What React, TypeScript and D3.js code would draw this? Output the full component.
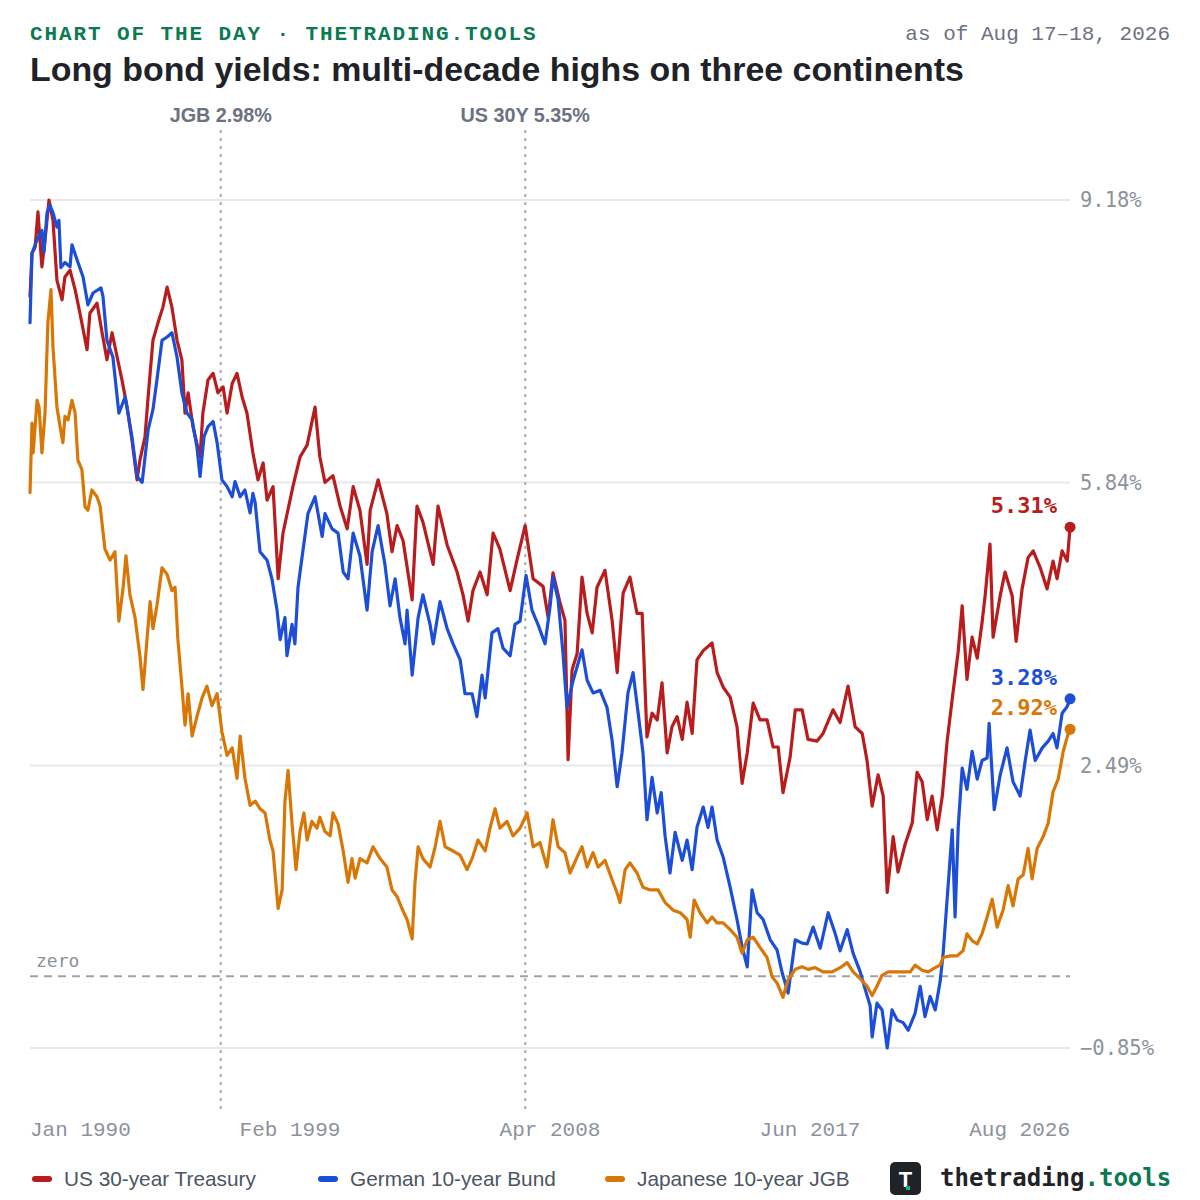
import React from "react";
import * as d3 from "d3";

// [decimal year, yield %]
const us30y: [number, number][] = [
  [1990.0, 8.04], [1990.07, 8.55], [1990.18, 8.62], [1990.28, 9.04], [1990.42, 8.39], [1990.53, 8.71],
  [1990.67, 9.18], [1990.81, 8.94], [1990.95, 8.23], [1991.13, 8.0], [1991.23, 8.27], [1991.41, 8.35],
  [1991.59, 8.12], [1991.76, 7.84], [1992.01, 7.41], [1992.11, 7.84], [1992.36, 7.96], [1992.54, 7.61],
  [1992.71, 7.29], [1992.89, 7.61], [1993.07, 7.32], [1993.24, 7.05], [1993.42, 6.73], [1993.59, 6.34],
  [1993.77, 5.87], [1993.87, 6.1], [1994.05, 6.38], [1994.16, 6.85], [1994.33, 7.52], [1994.51, 7.73],
  [1994.68, 7.91], [1994.83, 8.15], [1995.0, 7.91], [1995.18, 7.52], [1995.35, 7.29], [1995.46, 6.66],
  [1995.57, 6.9], [1995.74, 6.5], [1995.99, 6.14], [1996.09, 6.66], [1996.27, 7.05], [1996.45, 7.13],
  [1996.62, 6.9], [1996.8, 6.97], [1996.94, 6.66], [1997.12, 7.01], [1997.29, 7.13], [1997.47, 6.85],
  [1997.64, 6.66], [1997.85, 6.19], [1998.03, 5.87], [1998.21, 6.07], [1998.35, 5.63], [1998.56, 5.79],
  [1998.74, 4.7], [1998.91, 5.24], [1999.26, 5.79], [1999.51, 6.14], [1999.76, 6.28], [2000.04, 6.73],
  [2000.21, 6.14], [2000.39, 5.84], [2000.67, 5.92], [2000.92, 5.56], [2001.17, 5.29], [2001.38, 5.79],
  [2001.62, 5.51], [2001.87, 4.87], [2001.98, 5.51], [2002.26, 5.87], [2002.57, 5.47], [2002.75, 5.02],
  [2002.93, 5.33], [2003.14, 5.15], [2003.46, 4.45], [2003.63, 5.56], [2003.84, 5.37], [2004.2, 4.87],
  [2004.37, 5.56], [2004.69, 5.1], [2005.04, 4.78], [2005.25, 4.51], [2005.43, 4.2], [2005.6, 4.56],
  [2005.85, 4.78], [2006.1, 4.51], [2006.31, 5.24], [2006.55, 5.05], [2006.91, 4.56], [2007.15, 4.92],
  [2007.44, 5.33], [2007.72, 4.7], [2008.07, 4.61], [2008.25, 4.24], [2008.42, 4.77], [2008.67, 4.41],
  [2008.84, 4.21], [2008.95, 2.56], [2009.09, 3.62], [2009.27, 3.82], [2009.44, 4.72], [2009.62, 4.29],
  [2009.8, 4.06], [2009.97, 4.6], [2010.25, 4.8], [2010.5, 4.21], [2010.68, 3.59], [2010.89, 4.53],
  [2011.13, 4.72], [2011.38, 4.29], [2011.56, 4.29], [2011.73, 2.83], [2011.91, 3.11], [2012.09, 3.03],
  [2012.26, 3.47], [2012.44, 2.64], [2012.61, 2.95], [2012.79, 3.07], [2012.97, 2.8], [2013.14, 3.24],
  [2013.32, 2.87], [2013.49, 3.74], [2013.71, 3.85], [2014.02, 3.94], [2014.2, 3.59], [2014.41, 3.42],
  [2014.66, 3.3], [2014.9, 2.95], [2015.08, 2.28], [2015.26, 2.64], [2015.47, 3.23], [2015.71, 3.03],
  [2015.96, 3.03], [2016.17, 2.71], [2016.35, 2.71], [2016.52, 2.17], [2016.77, 2.59], [2016.95, 3.15],
  [2017.19, 3.15], [2017.4, 2.8], [2017.72, 2.78], [2017.93, 2.87], [2018.28, 3.15], [2018.53, 3.0],
  [2018.81, 3.43], [2019.06, 2.95], [2019.31, 2.87], [2019.48, 2.55], [2019.66, 2.01], [2019.87, 2.38],
  [2020.05, 2.13], [2020.19, 0.99], [2020.4, 1.65], [2020.57, 1.23], [2020.82, 1.56], [2021.07, 1.81],
  [2021.24, 2.41], [2021.42, 2.3], [2021.6, 1.85], [2021.77, 2.13], [2021.95, 1.73], [2022.13, 2.13],
  [2022.3, 2.78], [2022.51, 3.36], [2022.69, 3.84], [2022.83, 4.38], [2023.0, 3.51], [2023.18, 4.01],
  [2023.36, 3.76], [2023.53, 4.18], [2023.64, 4.5], [2023.81, 5.11], [2023.92, 4.01], [2024.17, 4.5],
  [2024.34, 4.78], [2024.59, 4.5], [2024.73, 3.96], [2024.94, 4.58], [2025.15, 4.95], [2025.33, 5.03],
  [2025.58, 4.83], [2025.82, 4.58], [2026.03, 4.91], [2026.17, 4.7], [2026.35, 5.03], [2026.53, 4.91],
  [2026.63, 5.31],
];

const bund10y: [number, number][] = [
  [1990.0, 7.73], [1990.07, 8.55], [1990.25, 8.71], [1990.42, 8.82], [1990.49, 8.56], [1990.6, 9.03],
  [1990.7, 9.12], [1990.81, 9.03], [1990.95, 8.86], [1991.02, 8.94], [1991.09, 8.38], [1991.23, 8.44],
  [1991.41, 8.39], [1991.48, 8.65], [1991.66, 8.47], [1991.87, 8.27], [1992.04, 7.94], [1992.22, 8.08],
  [1992.5, 8.14], [1992.57, 8.04], [1992.71, 7.52], [1992.92, 7.32], [1993.13, 6.66], [1993.35, 6.85],
  [1993.59, 6.38], [1993.77, 5.91], [1993.95, 5.84], [1994.16, 6.46], [1994.33, 6.7], [1994.47, 7.05],
  [1994.65, 7.52], [1994.83, 7.56], [1995.0, 7.61], [1995.18, 7.32], [1995.35, 6.9], [1995.53, 6.66],
  [1995.71, 6.58], [1995.88, 6.26], [1995.99, 5.91], [1996.13, 6.38], [1996.27, 6.5], [1996.45, 6.56],
  [1996.59, 6.31], [1996.76, 5.87], [1996.94, 5.79], [1997.12, 5.67], [1997.22, 5.85], [1997.4, 5.67],
  [1997.57, 5.75], [1997.75, 5.48], [1997.85, 5.71], [1997.93, 5.6], [1998.1, 5.02], [1998.35, 4.92],
  [1998.52, 4.7], [1998.7, 4.33], [1998.81, 3.98], [1998.98, 4.24], [1999.05, 3.79], [1999.23, 4.16],
  [1999.33, 3.93], [1999.44, 4.6], [1999.62, 5.05], [1999.79, 5.47], [2000.04, 5.67], [2000.29, 5.2],
  [2000.39, 5.47], [2000.64, 5.29], [2000.85, 5.24], [2001.03, 4.78], [2001.2, 4.7], [2001.38, 5.24],
  [2001.62, 4.97], [2001.87, 4.33], [2002.05, 5.02], [2002.26, 5.33], [2002.5, 4.87], [2002.68, 4.38],
  [2002.86, 4.7], [2003.03, 4.24], [2003.21, 3.93], [2003.28, 4.33], [2003.46, 3.56], [2003.67, 4.24],
  [2003.84, 4.51], [2004.09, 4.16], [2004.2, 3.93], [2004.44, 4.43], [2004.69, 4.11], [2004.9, 3.93],
  [2005.15, 3.74], [2005.32, 3.34], [2005.57, 3.34], [2005.74, 3.07], [2005.92, 3.56], [2006.03, 3.29],
  [2006.27, 4.06], [2006.48, 4.11], [2006.66, 3.88], [2006.91, 3.79], [2007.08, 4.16], [2007.26, 4.2],
  [2007.47, 4.74], [2007.68, 4.33], [2007.89, 4.16], [2008.14, 3.93], [2008.32, 4.38], [2008.42, 4.72],
  [2008.6, 4.45], [2008.77, 3.82], [2008.91, 3.18], [2009.13, 3.5], [2009.44, 3.86], [2009.62, 3.5],
  [2009.83, 3.35], [2010.08, 3.38], [2010.32, 3.18], [2010.5, 2.79], [2010.68, 2.24], [2010.85, 2.64],
  [2011.06, 3.35], [2011.24, 3.59], [2011.42, 3.11], [2011.59, 2.64], [2011.73, 1.85], [2011.91, 2.35],
  [2012.09, 1.93], [2012.23, 2.17], [2012.37, 1.65], [2012.54, 1.22], [2012.72, 1.7], [2012.97, 1.37],
  [2013.14, 1.61], [2013.32, 1.26], [2013.49, 1.76], [2013.71, 2.0], [2013.88, 1.76], [2014.02, 2.0],
  [2014.2, 1.61], [2014.41, 1.41], [2014.66, 1.05], [2014.9, 0.67], [2015.08, 0.35], [2015.26, 0.11],
  [2015.43, 1.02], [2015.61, 0.75], [2015.82, 0.67], [2016.07, 0.43], [2016.31, 0.31], [2016.49, 0.04],
  [2016.7, -0.2], [2016.95, 0.43], [2017.19, 0.39], [2017.37, 0.38], [2017.58, 0.58], [2017.83, 0.33],
  [2018.11, 0.75], [2018.36, 0.5], [2018.53, 0.3], [2018.78, 0.55], [2018.99, 0.27], [2019.24, 0.05],
  [2019.41, -0.15], [2019.59, -0.35], [2019.66, -0.72], [2019.83, -0.32], [2020.01, -0.4], [2020.19, -0.85],
  [2020.36, -0.4], [2020.54, -0.52], [2020.75, -0.55], [2020.93, -0.64], [2021.17, -0.44], [2021.35, -0.12],
  [2021.52, -0.48], [2021.7, -0.24], [2021.88, -0.4], [2022.05, -0.07], [2022.16, 0.27], [2022.3, 0.91],
  [2022.48, 1.73], [2022.58, 0.7], [2022.69, 1.76], [2022.83, 2.46], [2023.0, 2.21], [2023.18, 2.66],
  [2023.36, 2.33], [2023.53, 2.55], [2023.71, 2.58], [2023.78, 2.99], [2023.96, 1.97], [2024.17, 2.38],
  [2024.41, 2.7], [2024.62, 2.3], [2024.87, 2.13], [2025.05, 2.55], [2025.22, 2.91], [2025.4, 2.55],
  [2025.65, 2.7], [2025.86, 2.78], [2026.03, 2.87], [2026.17, 2.7], [2026.35, 3.11], [2026.53, 3.19],
  [2026.63, 3.28],
];

const jgb10y: [number, number][] = [
  [1990.0, 5.72], [1990.07, 6.54], [1990.11, 6.19], [1990.25, 6.81], [1990.32, 6.73], [1990.42, 6.19],
  [1990.53, 6.66], [1990.63, 7.73], [1990.74, 8.12], [1990.81, 7.44], [1990.95, 6.73], [1991.06, 6.5],
  [1991.16, 6.31], [1991.23, 6.62], [1991.34, 6.58], [1991.48, 6.81], [1991.59, 6.66], [1991.69, 6.1],
  [1991.83, 5.99], [1991.94, 5.55], [1992.04, 5.51], [1992.18, 5.75], [1992.36, 5.67], [1992.47, 5.56],
  [1992.64, 5.05], [1992.82, 4.92], [1992.99, 5.02], [1993.13, 4.2], [1993.28, 4.6], [1993.38, 4.97],
  [1993.52, 4.51], [1993.7, 4.24], [1993.87, 3.79], [1993.98, 3.39], [1994.12, 3.98], [1994.23, 4.43],
  [1994.33, 4.11], [1994.47, 4.38], [1994.65, 4.83], [1994.83, 4.75], [1995.0, 4.56], [1995.11, 4.6],
  [1995.21, 3.98], [1995.35, 3.43], [1995.46, 2.97], [1995.57, 3.34], [1995.71, 2.84], [1995.88, 3.07],
  [1996.06, 3.29], [1996.23, 3.43], [1996.41, 3.2], [1996.59, 3.34], [1996.76, 2.89], [1996.94, 2.61],
  [1997.12, 2.7], [1997.29, 2.34], [1997.4, 2.84], [1997.57, 2.34], [1997.75, 2.02], [1997.93, 2.07],
  [1998.1, 1.98], [1998.28, 1.93], [1998.45, 1.61], [1998.56, 1.48], [1998.74, 0.8], [1998.88, 1.02],
  [1998.98, 2.07], [1999.09, 2.43], [1999.23, 1.8], [1999.37, 1.26], [1999.51, 1.71], [1999.65, 1.93],
  [1999.76, 1.61], [1999.93, 1.83], [2000.11, 1.75], [2000.21, 1.88], [2000.39, 1.71], [2000.57, 1.66],
  [2000.67, 1.93], [2000.85, 1.8], [2001.03, 1.48], [2001.2, 1.11], [2001.34, 1.39], [2001.45, 1.16],
  [2001.62, 1.39], [2001.87, 1.34], [2002.08, 1.53], [2002.33, 1.39], [2002.57, 1.29], [2002.75, 1.02],
  [2002.93, 0.94], [2003.1, 0.8], [2003.28, 0.67], [2003.46, 0.44], [2003.56, 1.11], [2003.67, 1.53],
  [2003.84, 1.39], [2004.09, 1.29], [2004.27, 1.53], [2004.44, 1.83], [2004.62, 1.53], [2004.9, 1.48],
  [2005.15, 1.43], [2005.39, 1.26], [2005.57, 1.39], [2005.78, 1.61], [2006.03, 1.48], [2006.2, 1.75],
  [2006.38, 1.98], [2006.55, 1.75], [2006.8, 1.83], [2007.01, 1.66], [2007.26, 1.75], [2007.51, 1.93],
  [2007.72, 1.53], [2007.96, 1.58], [2008.21, 1.29], [2008.42, 1.85], [2008.6, 1.53], [2008.84, 1.46],
  [2009.02, 1.22], [2009.27, 1.41], [2009.44, 1.53], [2009.62, 1.29], [2009.83, 1.46], [2010.01, 1.29],
  [2010.25, 1.37], [2010.5, 1.14], [2010.68, 0.98], [2010.78, 0.87], [2010.96, 1.26], [2011.13, 1.34],
  [2011.38, 1.22], [2011.59, 1.05], [2011.84, 1.02], [2012.12, 1.02], [2012.37, 0.87], [2012.65, 0.78],
  [2012.9, 0.75], [2013.14, 0.67], [2013.25, 0.46], [2013.39, 0.9], [2013.6, 0.75], [2013.85, 0.63],
  [2014.02, 0.7], [2014.2, 0.63], [2014.41, 0.63], [2014.66, 0.55], [2014.9, 0.46], [2015.08, 0.27],
  [2015.26, 0.43], [2015.47, 0.46], [2015.71, 0.34], [2015.96, 0.22], [2016.14, -0.01], [2016.31, -0.08],
  [2016.52, -0.25], [2016.7, -0.04], [2016.95, 0.08], [2017.19, 0.11], [2017.4, 0.08], [2017.65, 0.1],
  [2017.93, 0.05], [2018.25, 0.05], [2018.53, 0.1], [2018.78, 0.16], [2018.99, 0.05], [2019.24, -0.03],
  [2019.48, -0.12], [2019.66, -0.23], [2019.83, -0.12], [2020.01, 0.01], [2020.22, 0.05], [2020.47, 0.05],
  [2020.75, 0.05], [2021.0, 0.05], [2021.17, 0.13], [2021.42, 0.07], [2021.63, 0.05], [2021.88, 0.1],
  [2022.05, 0.13], [2022.16, 0.22], [2022.41, 0.24], [2022.65, 0.24], [2022.86, 0.3], [2023.0, 0.5],
  [2023.18, 0.42], [2023.36, 0.38], [2023.53, 0.5], [2023.71, 0.7], [2023.89, 0.91], [2024.06, 0.58],
  [2024.27, 0.78], [2024.45, 1.07], [2024.62, 0.83], [2024.8, 1.15], [2024.98, 1.2], [2025.15, 1.51],
  [2025.29, 1.15], [2025.47, 1.51], [2025.68, 1.65], [2025.86, 1.81], [2026.03, 2.18], [2026.21, 2.33],
  [2026.39, 2.66], [2026.53, 2.83], [2026.63, 2.92],
];

const seriesNames = ["US 30-year Treasury", "German 10-year Bund", "Japanese 10-year JGB"];
const seriesColors = ["#b91c1c", "#1d4ed8", "#d97706"];
const yTicks = [-0.85, 2.49, 5.84, 9.18];
const xDomain = ["1990-01-01", "2026-08-18"];
const annotations = [
  { label: "JGB 2.98%", date: "1996-09-20" },
  { label: "US 30Y 5.35%", date: "2007-06-12" },
];

const W = 1200;
const H = 1200;
const mono = "'Liberation Mono', 'DejaVu Sans Mono', monospace";
const dvMono = "'DejaVu Sans Mono', monospace";
const sans = "'Liberation Sans', Arial, Helvetica, sans-serif";

const yearToDate = (y: number) => {
  const yr = Math.floor(y);
  const start = Date.UTC(yr, 0, 1);
  const end = Date.UTC(yr + 1, 0, 1);
  return new Date(start + (y - yr) * (end - start));
};

export default function App() {
  const x = d3.scaleUtc()
    .domain(xDomain.map((d) => new Date(d + "T00:00:00Z")))
    .range([30, 1070]);
  const y = d3.scaleLinear().domain([-0.85, 9.18]).range([1048, 200]);

  const line = d3.line<[number, number]>()
    .x((d) => x(yearToDate(d[0])))
    .y((d) => y(d[1]))
    .curve(d3.curveLinear);

  const all = [us30y, bund10y, jgb10y];
  const fmtPct = (v: number) => (v < 0 ? "\u2212" : "") + Math.abs(v).toFixed(2) + "%";
  const fmtDate = d3.utcFormat("%b %Y");
  const [d0, d1] = x.domain();
  const xTicks = [0, 0.25, 0.5, 0.75, 1].map(
    (f) => new Date(d0.getTime() + f * (d1.getTime() - d0.getTime())),
  );

  const legendX = [32, 318, 605];

  return (
    <svg width={W} height={H} viewBox={`0 0 ${W} ${H}`}
      style={{ display: "block", position: "absolute", left: 0, top: 0, background: "#fff" }}>
      <rect width={W} height={H} fill="#fff" />

      {/* header */}
      <text x={30} y={40} fontFamily={mono} fontSize={21} fontWeight={700}
        letterSpacing={1.9} fill="#0b7a52">CHART OF THE DAY · THETRADING.TOOLS</text>
      <text x={1170} y={40} fontFamily={mono} fontSize={21} textAnchor="end"
        fill="#6b7280">as of Aug 17–18, 2026</text>
      <text x={30} y={81} fontFamily={sans} fontSize={33.9} fontWeight={700}
        fill="#1f2328">Long bond yields: multi-decade highs on three continents</text>

      {/* gridlines */}
      {yTicks.map((t) => (
        <g key={t}>
          <line x1={30} x2={1070} y1={y(t)} y2={y(t)} stroke="#e7e7ee" strokeWidth={2} />
          <text x={1080} y={y(t)} dy="0.35em" fontFamily={dvMono} fontSize={20.5}
            fill="#8b929c">{fmtPct(t)}</text>
        </g>
      ))}

      {/* zero line */}
      <line x1={30} x2={1070} y1={y(0)} y2={y(0)} stroke="#9ca3af" strokeWidth={2}
        strokeDasharray="8 6" />
      <text x={36} y={y(0) - 9} fontFamily={dvMono} fontSize={18} fill="#8b929c">zero</text>

      {/* annotation markers */}
      {annotations.map((a) => {
        const ax = x(new Date(a.date + "T00:00:00Z"));
        return (
          <g key={a.label}>
            <line x1={ax} x2={ax} y1={130} y2={1113} stroke="#a8adb5" strokeWidth={2}
              strokeDasharray="3 5" />
            <text x={ax} y={122} textAnchor="middle" fontFamily={sans} fontSize={19.8}
              fontWeight={700} fill="#6b7280">{a.label}</text>
          </g>
        );
      })}

      {/* series */}
      {all.map((s, i) => (
        <path key={i} d={line(s) || ""} fill="none" stroke={seriesColors[i]} strokeWidth={3.2}
          strokeLinejoin="round" strokeLinecap="round" />
      ))}

      {/* end markers */}
      {all.map((s, i) => {
        const last = s[s.length - 1];
        const cx = x(yearToDate(last[0]));
        const cy = y(last[1]);
        return (
          <g key={"e" + i}>
            <circle cx={cx} cy={cy} r={5.5} fill={seriesColors[i]} />
            <text x={1057} y={cy - 14} textAnchor="end" fontFamily={dvMono} fontSize={22}
              fontWeight={700} fill={seriesColors[i]}>{last[1].toFixed(2)}%</text>
          </g>
        );
      })}

      {/* x axis labels */}
      {xTicks.map((t, i) => (
        <text key={i} x={x(t)} y={1136} fontFamily={mono} fontSize={21} fill="#8b929c"
          textAnchor={i === 0 ? "start" : i === xTicks.length - 1 ? "end" : "middle"}>
          {fmtDate(t)}
        </text>
      ))}

      {/* legend */}
      {seriesNames.map((n, i) => (
        <g key={n}>
          <rect x={legendX[i]} y={1176} width={20} height={6} rx={3} fill={seriesColors[i]} />
          <text x={legendX[i] + 32} y={1186} fontFamily={sans} fontSize={20.8}
            fill="#4b5563">{n}</text>
        </g>
      ))}

      {/* logo */}
      <rect x={890} y={1162} width={31} height={33} rx={5} fill="#1f2328" />
      <text x={905.5} y={1187} textAnchor="middle" fontFamily={sans} fontSize={22}
        fontWeight={700} fill="#fff">T</text>
      <rect x={906} y={1186} width={4} height={4} fill="#10b981" />
      <text x={940} y={1186} fontFamily={dvMono} fontSize={24} fontWeight={700}>
        <tspan fill="#1f2328">thetrading</tspan>
        <tspan fill="#0b7a52">.tools</tspan>
      </text>
    </svg>
  );
}
